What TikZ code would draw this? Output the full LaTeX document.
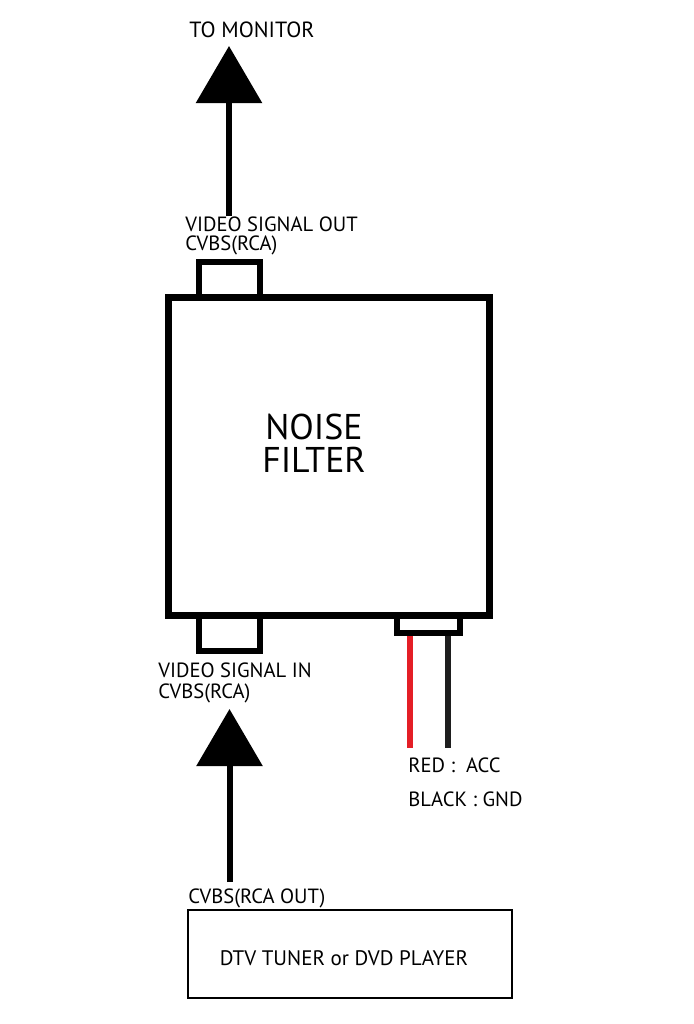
\documentclass[tikz,border=0pt]{standalone}
\usepackage{fontspec}
\setmainfont{PT Sans}
\usetikzlibrary{arrows.meta,positioning}

\begin{document}
\begin{tikzpicture}[
    x=0.5pt, y=-0.5pt,
    lbl/.style={inner sep=0pt, anchor=base west, font=\fontsize{10.3}{10}\selectfont},
    unit/.style={draw, line width=3.5pt, minimum width=160.25pt, minimum height=158.75pt, inner sep=0pt},
    port/.style={draw, line width=3pt, inner sep=0pt, minimum width=30.5pt},
    sigarrow/.style={line width=3pt, -{Triangle[length=28.5pt, width=32.5pt]}},
    wire/.style={line width=3pt},
    srcbox/.style={draw, line width=1pt, minimum width=162pt, minimum height=44pt}
  ]
    \useasboundingbox (0,0) rectangle (694,1024);
    \definecolor{wirered}{RGB}{228,30,38}
    \definecolor{ink}{RGB}{30,30,30}

    \node[port, minimum height=17.75pt] (outport) at (229.5,279.75) {};
    \node[port, minimum height=18pt] (inport) at (229.5,633) {};
    \node[port, minimum width=31.5pt, minimum height=9pt] (pwrport) at (428.5,624) {};
    \node[unit] (filter) at (328.75,456.25) {};
    \node[inner sep=0pt, align=center, font=\fontsize{17.9}{16.5}\selectfont] (name) at (314,443) {NOISE\\FILTER};

    \node[lbl, font=\fontsize{11}{11}\selectfont] (monlbl) at (189,37) {TO MONITOR};
    \node[lbl] (outlbl) at (185,231.5) {VIDEO SIGNAL OUT};
    \node[lbl] (outlbl2) at (185,250.5) {CVBS(RCA)};
    \node[lbl] (inlbl) at (158,677) {VIDEO SIGNAL IN};
    \node[lbl] (inlbl2) at (158,698) {CVBS(RCA)};
    \node[lbl] (redlbl) at (408,772) {RED :~ ACC};
    \node[lbl] (blacklbl) at (408,806) {BLACK : GND};
    \node[lbl] (srclbl) at (188,903) {CVBS(RCA OUT)};
    \node[srcbox] (source) at (350,954) {};
    \node[inner sep=0pt, font=\fontsize{10.5}{11}\selectfont] (srcname) at (344,958) {DTV TUNER or DVD PLAYER};

    \coordinate (montip) at (229,46);
    \coordinate (monfoot) at (229,216);
    \coordinate (intip) at (229.5,709);
    \coordinate (infoot) at (229.5,882);
    \coordinate (redend) at (410,748);
    \coordinate (blackend) at (447.5,748);

    \draw[sigarrow] (monfoot) -- (montip);
    \draw[sigarrow] (infoot) -- (intip);
    \draw[wire, wirered] (redend |- pwrport.south) -- (redend);
    \draw[wire, ink] (blackend |- pwrport.south) -- (blackend);
  \end{tikzpicture}
\end{document}
